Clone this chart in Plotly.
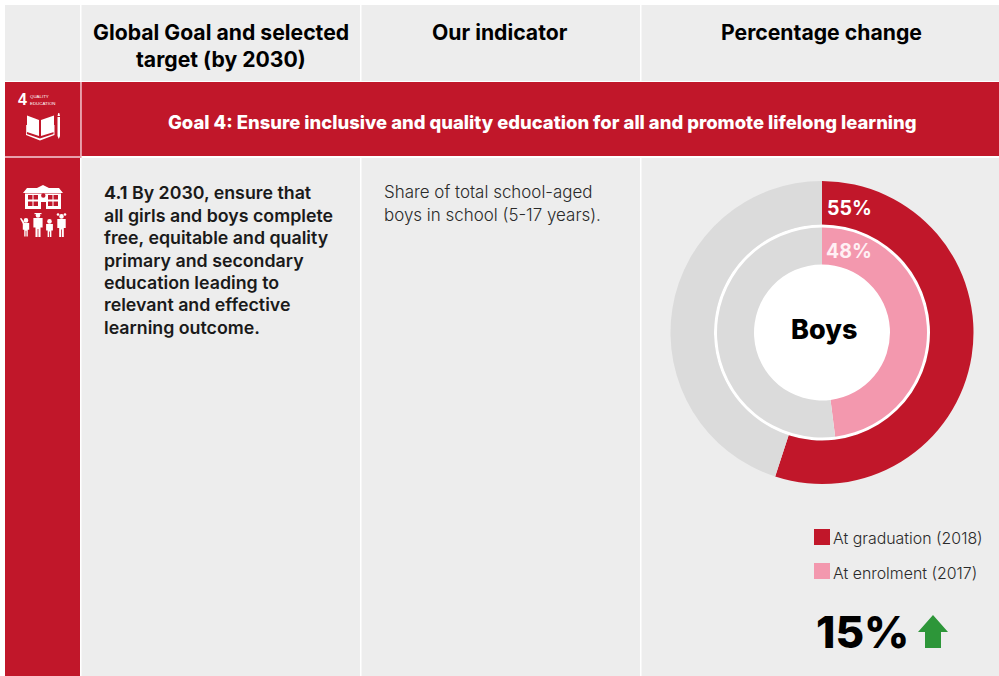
import plotly.graph_objects as go

W, H = 999, 676
FONT = "Inter"
RED, PINK, GREY, BG, GREEN = "#C1172A", "#F398AE", "#DBDBDB", "#EDEDED", "#2D9639"
SEP = "#E8A0AC"

# data
outer_labels = ["At graduation (2018)", "Remainder"]
outer_values = [55, 45]
inner_labels = ["At enrolment (2017)", "Remainder"]
inner_values = [48, 52]
change_label = "15%"
headers = [
    ("Global Goal and selected", 221, 32), ("target (by 2030)", 221, 59),
    ("Our indicator", 500, 32), ("Percentage change", 821, 32),
]
goal_title = "Goal 4: Ensure inclusive and quality education for all and promote lifelong learning"
target_lines = [
    "<b>4.1</b> By 2030, ensure that", "all girls and boys complete",
    "free, equitable and quality", "primary and secondary",
    "education leading to", "relevant and effective", "learning outcome.",
]
target_y = [192, 215, 237, 260, 282, 304, 327]
indicator_lines = ["Share of total school-aged", "boys in school (5-17 years)."]

CX, CY, R_OUT, R_HOLE_OUT, R_IN, R_HOLE_IN = 822, 332.5, 151.5, 108, 105, 68


def px(x):
    return x / W


def py(y):
    return 1 - y / H


def P(*pts):
    return "M" + " L".join(f"{px(x):.5f},{py(y):.5f}" for x, y in pts) + " Z"


shapes = []


def rect(x0, y0, x1, y1, color):
    shapes.append(dict(type="rect", xref="paper", yref="paper", x0=px(x0), x1=px(x1), y0=py(y1), y1=py(y0),
                       fillcolor=color, line_width=0, layer="below"))


def circ(cx, cy, r, color, ry=None):
    ry = ry or r
    shapes.append(dict(type="circle", xref="paper", yref="paper", x0=px(cx - r), x1=px(cx + r), y0=py(cy + ry), y1=py(cy - ry),
                       fillcolor=color, line_width=0, layer="below"))


def poly(color, *pts):
    shapes.append(dict(type="path", xref="paper", yref="paper", path=P(*pts), fillcolor=color, line_width=0, layer="below"))


# table cells
for x0, x1 in [(5, 80), (81.5, 360), (361.5, 640), (641.5, 999)]:
    rect(x0, 5, x1, 81, BG)
    rect(x0, 158, x1, 676, BG)
rect(5, 82, 80, 156, RED)
rect(81.5, 82, 999, 156, RED)
rect(5, 158, 80, 676, RED)
rect(80, 82, 81.5, 158, SEP)
rect(5, 156, 80, 158, SEP)

# centre white disc (shows as ring gap and hole)
circ(CX, CY, R_HOLE_OUT, "white")

# legend and arrow
rect(814, 529, 830, 545, RED)
rect(814, 563, 830, 579, PINK)
poly(GREEN, (933, 615), (948, 632), (941, 632), (941, 648), (925, 648), (925, 632), (918, 632))

# book icon
poly("white", (27, 115.5), (39, 120), (39, 136), (27, 132))
poly("white", (54, 115.5), (41, 120), (41, 136), (54, 132))
poly("white", (26, 125), (26.8, 125), (26.8, 134), (40, 138.5), (53.5, 134), (53.5, 125), (54.5, 125), (54.5, 135), (40, 140.5), (26, 135))
poly("white", (57.5, 117), (60, 117), (60, 136), (58.8, 139), (57.5, 136))
poly("white", (58.3, 113), (59.3, 113), (60, 116), (57.5, 116))

# school icon
poly("white", (23, 193), (27, 188), (37, 188), (43, 185), (49, 188), (59, 188), (63, 193))
rect(25, 193.5, 61, 209, "white")
for x0, x1 in [(28, 32.5), (33.5, 38), (48, 52.5), (53.5, 58)]:
    for y0, y1 in [(195, 199.5), (201.5, 206)]:
        rect(x0, y0, x1, y1, RED)
rect(41, 202, 46, 209, RED)
circ(43.3, 195.5, 2.2, RED)
# people
for x, top, h, w in [(26, 223, 13.5, 3.2), (38, 218, 19, 4.6), (49.5, 224, 13, 3.4), (61.5, 219, 18, 4.2)]:
    circ(x, top - 2.6, 2.3, "white")
    poly("white", (x - w, top), (x + w, top), (x + w, top + h * 0.5), (x + w * 0.55, top + h * 0.5),
         (x + w * 0.55, top + h), (x + 0.4, top + h), (x + 0.4, top + h * 0.58), (x - 0.4, top + h * 0.58),
         (x - 0.4, top + h), (x - w * 0.55, top + h), (x - w * 0.55, top + h * 0.5), (x - w, top + h * 0.5))
poly("white", (23, 224), (20, 218.5), (21.3, 218), (24.5, 222.5))
rect(34.5, 213, 41.5, 214.2, "white")
circ(58, 214.5, 1.3, "white")
circ(65, 214.5, 1.3, "white")

ann = []


def text(t, x, y, size, color="#000000", anchor="left", bold=False, family=FONT, weight=None):
    ann.append(dict(text=t, x=px(x), y=py(y), xref="paper", yref="paper", xanchor=anchor, yanchor="middle",
                    showarrow=False, align=anchor,
                    font=dict(family=family, size=size, color=color, weight=weight or (700 if bold else 400))))


for t, x, y in headers:
    text(t, x, y, 21.2, anchor="center", bold=True)
text(goal_title, 542, 122, 18.45, "white", "center", weight=800)
for t, y in zip(target_lines, target_y):
    text(t, 102, y, 17.8, "#1a1a1a", weight=600)
for t, y in zip(indicator_lines, [192, 215]):
    text(t, 382, y, 16.95, "#2a2a2a", weight=300)
text("55%", 849, 208, 19.5, "white", "center", True)
text("48%", 849, 251, 19.5, "#FFF0F4", "center", True)
text("Boys", 823.5, 329, 27, "#000000", "center", weight=800)
text(outer_labels[0], 831, 538.5, 15.9, "#2a2a2a", weight=300)
text(inner_labels[0], 831, 573, 15.9, "#2a2a2a", weight=300)
text(change_label, 862, 632, 44, "#000000", "center", weight=800)
text("4", 22, 100, 16, "white", "center", True, "Liberation Sans")
text("QUALITY", 28, 96.5, 4.4, "white", "left", False, "Liberation Sans")
text("EDUCATION", 28, 103.5, 4.4, "white", "left", False, "Liberation Sans")


def domain(r):
    return dict(x=[px(CX - r), px(CX + r)], y=[py(CY + r), py(CY - r)])


fig = go.Figure()
fig.add_trace(go.Pie(labels=outer_labels, values=outer_values, sort=False, direction="clockwise", rotation=0,
                     hole=R_HOLE_OUT / R_OUT, domain=domain(R_OUT), textinfo="none", showlegend=False,
                     marker=dict(colors=[RED, GREY], line=dict(width=0))))
fig.add_trace(go.Pie(labels=inner_labels, values=inner_values, sort=False, direction="clockwise", rotation=0,
                     hole=R_HOLE_IN / R_IN, domain=domain(R_IN), textinfo="none", showlegend=False,
                     marker=dict(colors=[PINK, GREY], line=dict(width=0))))
fig.update_layout(width=W, height=H, margin=dict(l=0, r=0, t=0, b=0), paper_bgcolor="white", plot_bgcolor="white",
                  shapes=shapes, annotations=ann, showlegend=False, font=dict(family=FONT))
fig.write_html("out.html", config=dict(displayModeBar=False),
               post_script="document.body.style.margin='0';document.body.style.overflow='hidden';")
